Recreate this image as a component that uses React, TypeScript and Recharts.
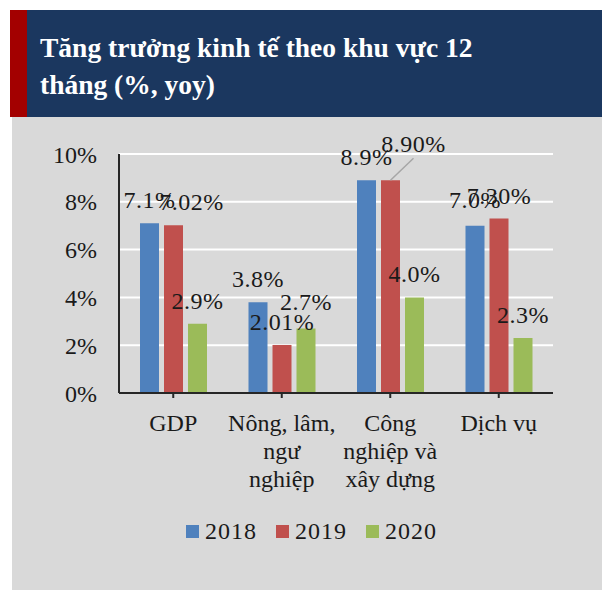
import React from 'react';
import { BarChart, Bar, XAxis, YAxis, CartesianGrid, LabelList, Legend } from 'recharts';

const titleLines = ['Tăng trưởng kinh tế theo khu vực 12', 'tháng (%, yoy)'];
const categories = ['GDP', 'Nông, lâm,\nngư\nnghiệp', 'Công\nnghiệp và\nxây dựng', 'Dịch vụ'];
const values2018 = [7.1, 3.8, 8.9, 7.0];
const values2019 = [7.02, 2.01, 8.9, 7.3];
const values2020 = [2.9, 2.7, 4.0, 2.3];
const yTicks = [0, 2, 4, 6, 8, 10];
const seriesNames = ['2018', '2019', '2020'];

const data = categories.map((c, i) => ({
  category: c,
  y2018: values2018[i],
  y2019: values2019[i],
  y2020: values2020[i],
}));

const FONT = "'Liberation Serif', serif";
const TEXT = '#1a1a1a';
const AXIS = '#262626';

const series = [
  { key: 'y2018', name: seriesNames[0], color: '#4f81bd', decimals: 1 },
  { key: 'y2019', name: seriesNames[1], color: '#c0504d', decimals: 2 },
  { key: 'y2020', name: seriesNames[2], color: '#9bbb59', decimals: 1 },
];

// manual label nudges (dx, dy) like the hand-moved labels in the original
const labelNudges: Record<string, Record<number, { dx: number; dy: number; leader?: boolean }>> = {
  y2018: { 3: { dx: 0, dy: -3 } },
  y2019: { 0: { dx: 18, dy: 0 }, 2: { dx: 23, dy: -13, leader: true } },
  y2020: { 1: { dx: 0, dy: -3 } },
};

const makeLabel = (key: string, decimals: number) => (props: any) => {
  const { x, y, width, value, index } = props;
  const n = (labelNudges[key] && labelNudges[key][index]) || { dx: 0, dy: 0 };
  const cx = Number(x) + Number(width) / 2;
  const tx = cx + n.dx;
  const ty = Number(y) - 15 + n.dy;
  return (
    <g>
      {n.leader && <line x1={cx} y1={Number(y)} x2={tx} y2={ty + 6} stroke="#a6a6a6" strokeWidth={1.5} />}
      <text x={tx} y={ty} textAnchor="middle" fill={TEXT} fontSize={24} fontFamily={FONT} letterSpacing={0.5}>
        {Number(value).toFixed(decimals)}%
      </text>
    </g>
  );
};

const CategoryTick = (props: any) => {
  const { x, y, payload } = props;
  const lines = String(payload.value).split('\n');
  return (
    <text x={x} y={y} textAnchor="middle" fill={TEXT} fontSize={24} fontFamily={FONT}>
      {lines.map((l, i) => (
        <tspan key={i} x={x} dy={i === 0 ? 33 : 28}>
          {l}
        </tspan>
      ))}
    </text>
  );
};

const LegendContent = () => (
  <div style={{ display: 'flex', alignItems: 'center', fontFamily: FONT, fontSize: 24, lineHeight: '24px', color: TEXT, whiteSpace: 'nowrap', letterSpacing: 1 }}>
    {series.map((s, i) => (
      <div key={s.key} style={{ display: 'flex', alignItems: 'center', marginRight: i < series.length - 1 ? 19 : 0 }}>
        <div style={{ width: 13, height: 13, background: s.color, marginRight: 6 }} />
        <span>{s.name}</span>
      </div>
    ))}
  </div>
);

export default function App() {
  return (
    <div style={{ position: 'absolute', left: 0, top: 0, width: 602, height: 590, background: '#ffffff', overflow: 'hidden' }}>
      <svg width={602} height={590} style={{ position: 'absolute', left: 0, top: 0 }}>
        <rect x={12} y={117} width={590} height={473} fill="#d9d9d9" />
        <rect x={10} y={10} width={592} height={107} fill="#1b375f" />
        <rect x={10} y={10} width={17} height={107} fill="#a30000" />
        {titleLines.map((t, i) => (
          <text key={i} x={40} y={57 + i * 37} fill="#ffffff" fontSize={27.5} fontWeight="bold" fontFamily={FONT}>
            {t}
          </text>
        ))}
      </svg>
      <div style={{ position: 'absolute', left: 0, top: 0 }}>
        <BarChart
          width={602}
          height={590}
          data={data}
          margin={{ top: 154, right: 49, bottom: 97, left: 59 }}
          barSize={19}
          barGap={5}
        >
          <CartesianGrid vertical={false} stroke="#ffffff" strokeWidth={2} />
          <XAxis
            xAxisId="edge"
            type="number"
            domain={[0, 4]}
            ticks={[4]}
            tick={false}
            axisLine={false}
            tickLine={{ stroke: AXIS, strokeWidth: 2 }}
            tickSize={5}
            height={1}
          />
          <XAxis
            dataKey="category"
            axisLine={{ stroke: AXIS, strokeWidth: 2 }}
            tickLine={{ stroke: AXIS, strokeWidth: 2 }}
            tickSize={5}
            tickMargin={0}
            tick={<CategoryTick />}
            interval={0}
            height={99}
          />
          <YAxis
            domain={[0, 10]}
            ticks={yTicks}
            tickFormatter={(v: number) => `${v}%`}
            axisLine={{ stroke: AXIS, strokeWidth: 2 }}
            tickLine={false}
            tickSize={0}
            tickMargin={22}
            width={60}
            tick={{ fill: TEXT, fontSize: 24, fontFamily: FONT }}
          />
          {series.map((s) => (
            <Bar key={s.key} dataKey={s.key} name={s.name} fill={s.color} isAnimationActive={false}>
              <LabelList dataKey={s.key} content={makeLabel(s.key, s.decimals)} />
            </Bar>
          ))}
          <Legend
            layout="horizontal"
            verticalAlign="middle"
            align="center"
            content={<LegendContent />}
            wrapperStyle={{ position: 'absolute', left: 186, top: 519, width: 'auto', height: 24 }}
          />
        </BarChart>
      </div>
    </div>
  );
}
